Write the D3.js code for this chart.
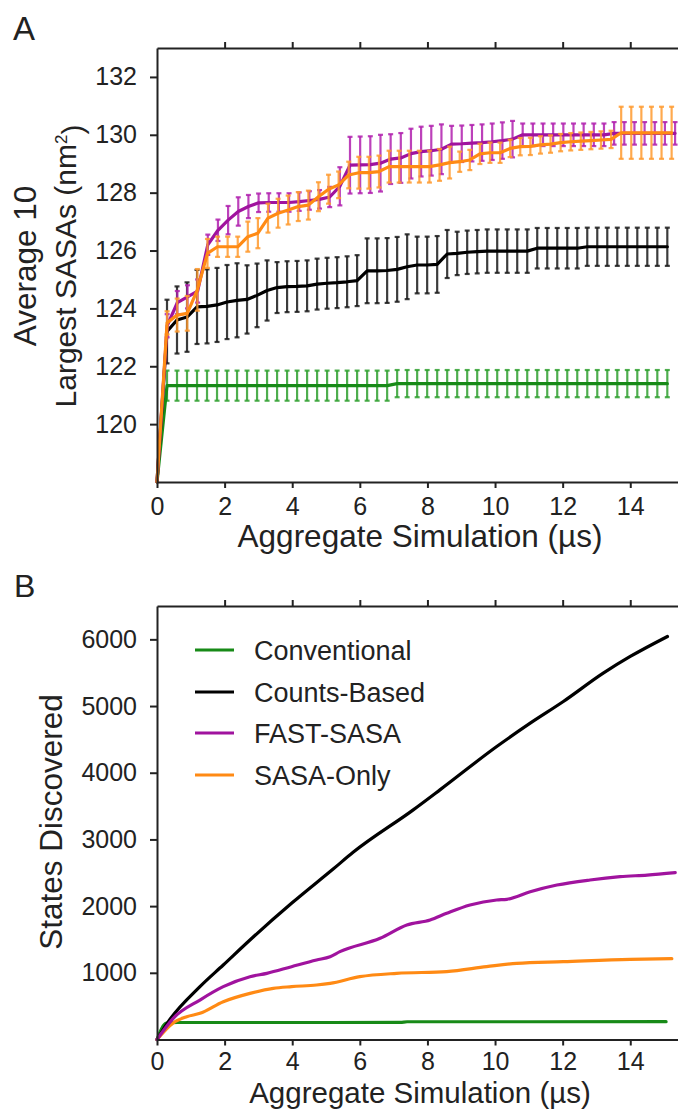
<!DOCTYPE html>
<html>
<head>
<meta charset="utf-8">
<script src="https://cdn.jsdelivr.net/npm/d3@7"></script>
<style>
  html, body { margin: 0; padding: 0; background: #fff; }
  svg { display: block; font-family: "Liberation Sans", Arial, Helvetica, sans-serif; }
</style>
</head>
<body>
<svg id="chart" width="678" height="1109"></svg>
<script>
// ---------------- Data ----------------
const seriesNames = ["Conventional", "Counts-Based", "FAST-SASA", "SASA-Only"];

// Panel A: sampling step (µs) of each run; points at k*step, k = 1..51, plus the start at t = 0
const stepConventional = 0.296;
const stepCounts = 0.296;
const stepFast = 0.3005;
const stepSasaOnly = 0.2985;
const startSasa = 118.0;

const sasaConventional = [
  121.33, 121.33, 121.33, 121.33, 121.33, 121.33, 121.33, 121.33, 121.33, 121.33,
  121.33, 121.33, 121.33, 121.33, 121.33, 121.33, 121.33, 121.33, 121.33, 121.33,
  121.33, 121.33, 121.33, 121.40, 121.40, 121.40, 121.40, 121.40, 121.40, 121.40,
  121.40, 121.40, 121.40, 121.40, 121.40, 121.40, 121.40, 121.40, 121.40, 121.40,
  121.40, 121.40, 121.40, 121.40, 121.40, 121.40, 121.40, 121.40, 121.40, 121.40, 121.40
];
const errConventional = [
  0.52, 0.52, 0.52, 0.52, 0.52, 0.52, 0.52, 0.52, 0.52, 0.52,
  0.52, 0.52, 0.52, 0.52, 0.52, 0.52, 0.52, 0.52, 0.52, 0.52,
  0.52, 0.52, 0.52, 0.47, 0.47, 0.47, 0.47, 0.47, 0.47, 0.47,
  0.47, 0.47, 0.47, 0.47, 0.47, 0.47, 0.47, 0.47, 0.47, 0.47,
  0.47, 0.47, 0.47, 0.47, 0.47, 0.47, 0.47, 0.47, 0.47, 0.47, 0.47
];

const sasaCounts = [
  123.2, 123.6, 123.7, 124.05, 124.07, 124.12, 124.22, 124.28, 124.31, 124.45,
  124.62, 124.72, 124.75, 124.76, 124.78, 124.84, 124.87, 124.89, 124.92, 124.96,
  125.3, 125.3, 125.31, 125.35, 125.44, 125.5, 125.5, 125.52, 125.88, 125.9,
  125.94, 125.96, 125.98, 125.98, 125.98, 125.98, 125.98, 126.08, 126.08, 126.08,
  126.08, 126.08, 126.13, 126.13, 126.13, 126.13, 126.13, 126.13, 126.13, 126.13, 126.13
];
const errCounts = [
  1.1, 1.16, 1.2, 1.28, 1.28, 1.28, 1.28, 1.28, 1.18, 1.1,
  1.04, 0.88, 0.88, 0.88, 0.88, 0.88, 0.88, 0.88, 0.88, 0.88,
  1.12, 1.12, 1.12, 1.12, 1.12, 0.98, 0.98, 0.98, 0.83, 0.75,
  0.75, 0.75, 0.75, 0.75, 0.75, 0.75, 0.75, 0.7, 0.7, 0.7,
  0.7, 0.7, 0.66, 0.66, 0.66, 0.66, 0.66, 0.66, 0.66, 0.66, 0.66
];

const sasaFast = [
  123.4, 124.2, 124.4, 124.6, 126.2, 126.7, 127.05, 127.35, 127.52, 127.65,
  127.66, 127.66, 127.66, 127.69, 127.73, 127.77, 127.85, 128.22, 128.95, 128.96,
  128.97, 129.02, 129.16, 129.2, 129.35, 129.42, 129.45, 129.5, 129.68, 129.69,
  129.71, 129.73, 129.76, 129.8, 129.85, 130.0, 130.0, 130.0, 130.0, 130.0,
  130.0, 130.0, 130.0, 130.0, 130.05, 130.05, 130.05, 130.05, 130.05, 130.05, 130.05
];
const errFast = [
  0.4, 0.4, 0.4, 0.4, 0.35, 0.37, 0.49, 0.49, 0.4, 0.32,
  0.32, 0.32, 0.32, 0.32, 0.32, 0.32, 0.35, 0.66, 0.98, 0.98,
  0.98, 0.98, 0.86, 0.86, 0.86, 0.86, 0.86, 0.86, 0.63, 0.63,
  0.63, 0.63, 0.63, 0.63, 0.63, 0.39, 0.39, 0.39, 0.39, 0.39,
  0.39, 0.39, 0.39, 0.39, 0.39, 0.39, 0.39, 0.39, 0.39, 0.39, 0.39
];

const sasaSasaOnly = [
  123.5, 123.77, 123.83, 124.64, 125.9, 126.13, 126.13, 126.13, 126.48, 126.6,
  127.12, 127.29, 127.4, 127.52, 127.57, 127.86, 128.12, 128.27, 128.61, 128.69,
  128.69, 128.73, 128.9, 128.9, 128.9, 128.9, 128.9, 128.96, 129.04, 129.07,
  129.13, 129.34, 129.38, 129.38, 129.53, 129.59, 129.6, 129.65, 129.68, 129.73,
  129.76, 129.78, 129.8, 129.82, 129.84, 130.07, 130.07, 130.07, 130.07, 130.07, 130.07
];
const errSasaOnly = [
  0.4, 0.57, 0.6, 0.72, 0.5, 0.35, 0.35, 0.35, 0.52, 0.52,
  0.5, 0.5, 0.5, 0.5, 0.5, 0.5, 0.5, 0.46, 0.46, 0.55,
  0.55, 0.55, 0.55, 0.55, 0.55, 0.55, 0.55, 0.55, 0.55, 0.35,
  0.35, 0.35, 0.35, 0.35, 0.3, 0.3, 0.3, 0.3, 0.3, 0.3,
  0.3, 0.3, 0.3, 0.3, 0.3, 0.9, 0.9, 0.9, 0.9, 0.9, 0.9
];

// Panel B: states discovered
const timeConventionalB = [0, 0.28, 0.6, 3.0, 7.2, 7.4, 11.0, 15.06];
const statesConventional = [0, 245, 255, 255, 256, 266, 266, 267];

const timeCountsB = [0, 0.3, 1.27, 1.96, 2.75, 3.98, 5.22, 5.81, 7.58, 8.37, 10.05, 11.04, 12.02, 13.2, 14.0, 15.1];
const statesCounts = [0, 243, 792, 1117, 1492, 2042, 2560, 2810, 3443, 3743, 4393, 4743, 5068, 5493, 5743, 6043];

const timeFastB = [0, 0.48, 1.27, 1.96, 2.75, 3.25, 3.98, 4.72, 5.12, 5.41, 6.6, 7.39, 8.08, 8.57, 9.26, 10.05, 10.35, 11.04, 11.83, 12.81, 13.7, 14.5, 15.33];
const statesFast = [0, 318, 592, 792, 942, 992, 1092, 1192, 1242, 1317, 1517, 1717, 1792, 1892, 2017, 2092, 2102, 2216, 2316, 2392, 2441, 2466, 2501];

const timeSasaOnlyB = [0, 0.48, 0.88, 1.27, 1.96, 2.75, 3.44, 3.98, 4.72, 5.12, 6.0, 7.09, 8.57, 9.75, 10.64, 12.02, 14.0, 15.23];
const statesSasaOnly = [0, 250, 342, 392, 567, 692, 767, 792, 817, 842, 942, 992, 1017, 1092, 1142, 1167, 1202, 1212];

const xTicks = [0, 2, 4, 6, 8, 10, 12, 14];
const yTicksA = [120, 122, 124, 126, 128, 130, 132];
const yTicksB = [1000, 2000, 3000, 4000, 5000, 6000];

// ---------------- Styling ----------------
const colors = {
  "Conventional": "#178a17",
  "Counts-Based": "#000000",
  "FAST-SASA": "#a0139e",
  "SASA-Only": "#ff8a14"
};
const barColors = {
  "Conventional": "#2fa02f",
  "Counts-Based": "#1a1a1a",
  "FAST-SASA": "#b020ae",
  "SASA-Only": "#ff9a2e"
};
const axisColor = "#222";
const textColor = "#222";
const tickFont = "25px";
const titleFont = "31.5px";

const svg = d3.select("#chart");

// Build series for panel A
function buildA(name, step, values, errs) {
  const pts = [{ t: 0, v: startSasa, e: 0 }];
  values.forEach((v, i) => pts.push({ t: step * (i + 1), v: v, e: errs[i] }));
  return { name, pts };
}
const seriesA = [
  buildA("Conventional", stepConventional, sasaConventional, errConventional),
  buildA("Counts-Based", stepCounts, sasaCounts, errCounts),
  buildA("FAST-SASA", stepFast, sasaFast, errFast),
  buildA("SASA-Only", stepSasaOnly, sasaSasaOnly, errSasaOnly)
];

function buildB(name, times, values) {
  return { name, pts: times.map((t, i) => ({ t, v: values[i] })) };
}
const seriesB = [
  buildB("Conventional", timeConventionalB, statesConventional),
  buildB("Counts-Based", timeCountsB, statesCounts),
  buildB("SASA-Only", timeSasaOnlyB, statesSasaOnly),
  buildB("FAST-SASA", timeFastB, statesFast)
];

// ---------------- Frame helper ----------------
function drawFrame(g, x, y, top, bottom, yTicks, xPad) {
  const gl = g.append("g").attr("transform", `translate(${x.range()[0]},0)`)
    .call(d3.axisLeft(y).tickValues(yTicks).tickFormat(d3.format("d"))
      .tickSize(7).tickPadding(13).tickSizeOuter(0));
  const gb = g.append("g").attr("transform", `translate(0,${bottom})`)
    .call(d3.axisBottom(x).tickValues(xTicks).tickFormat(d3.format("d"))
      .tickSize(6).tickPadding(xPad).tickSizeOuter(0));
  const gt = g.append("g").attr("transform", `translate(0,${top})`)
    .call(d3.axisTop(x).tickValues(xTicks.filter(d => d > 0)).tickSize(6).tickFormat("").tickSizeOuter(0));
  [gl, gb, gt].forEach(a => {
    a.select(".domain").attr("stroke", axisColor).attr("stroke-width", 2);
    a.selectAll(".tick line").attr("stroke", axisColor).attr("stroke-width", 2);
    a.selectAll(".tick text").attr("fill", textColor)
      .style("font-size", tickFont).style("font-family", "'Liberation Sans', Arial, sans-serif");
  });
}

// ---------------- Panel A ----------------
const xA = d3.scaleLinear().domain([0, 15.56]).range([157, 683]);
const yA = d3.scaleLinear().domain([118, 133]).range([482, 48]);
const gA = svg.append("g");

const lineA = d3.line().x(d => xA(d.t)).y(d => yA(d.v));
const order = ["Conventional", "Counts-Based", "FAST-SASA", "SASA-Only"];
order.forEach(name => {
  const s = seriesA.find(q => q.name === name);
  const bars = gA.append("g").attr("stroke", barColors[name]).attr("stroke-width", 2.2)
    .attr("stroke-opacity", 0.85);
  s.pts.filter(d => d.e > 0).forEach(d => {
    const cx = xA(d.t), y1 = yA(d.v - d.e), y2 = yA(d.v + d.e);
    bars.append("line").attr("x1", cx).attr("x2", cx).attr("y1", y1).attr("y2", y2);
    bars.append("line").attr("x1", cx - 2.5).attr("x2", cx + 2.5).attr("y1", y1).attr("y2", y1);
    bars.append("line").attr("x1", cx - 2.5).attr("x2", cx + 2.5).attr("y1", y2).attr("y2", y2);
  });
  gA.append("path").datum(s.pts).attr("d", lineA)
    .attr("fill", "none").attr("stroke", colors[name]).attr("stroke-width", 3.2)
    .attr("stroke-linejoin", "round").attr("stroke-linecap", "round");
});

drawFrame(gA, xA, yA, 48, 482, yTicksA, 9);

gA.append("text").attr("x", 13).attr("y", 40).text("A")
  .attr("fill", textColor).style("font-size", "33px");

gA.append("text").attr("x", 420).attr("y", 547).attr("text-anchor", "middle")
  .attr("fill", textColor).style("font-size", titleFont).text("Aggregate Simulation (µs)");

const yTitleA = gA.append("g").attr("fill", textColor).style("font-size", "30px");
yTitleA.append("text").attr("transform", "translate(36,266) rotate(-90)")
  .attr("text-anchor", "middle").style("font-size", "31.5px").text("Average 10");
const t2 = yTitleA.append("text").attr("transform", "translate(76,266) rotate(-90)")
  .attr("text-anchor", "middle");
t2.append("tspan").text("Largest SASAs (nm");
t2.append("tspan").attr("dy", "-0.55em").style("font-size", "17px").text("2");
t2.append("tspan").attr("dy", "0.55em").text(")");

// ---------------- Panel B ----------------
const xB = d3.scaleLinear().domain([0, 15.56]).range([157, 683]);
const yB = d3.scaleLinear().domain([0, 6500]).range([1039.5, 606]);
const gB = svg.append("g");

const lineB = d3.line().x(d => xB(d.t)).y(d => yB(d.v)).curve(d3.curveMonotoneX);
seriesB.forEach(s => {
  gB.append("path").datum(s.pts).attr("d", lineB)
    .attr("fill", "none").attr("stroke", colors[s.name]).attr("stroke-width", 3.2)
    .attr("stroke-linejoin", "round").attr("stroke-linecap", "round");
});

drawFrame(gB, xB, yB, 606, 1039.5, yTicksB, 7);

gB.append("text").attr("x", 14).attr("y", 597).text("B")
  .attr("fill", textColor).style("font-size", "32px");

gB.append("text").attr("x", 420).attr("y", 1102.5).attr("text-anchor", "middle")
  .attr("fill", textColor).style("font-size", "29.5px").text("Aggregate Simulation (µs)");

gB.append("text").attr("transform", "translate(62,822) rotate(-90)")
  .attr("text-anchor", "middle").attr("fill", textColor).style("font-size", titleFont)
  .text("States Discovered");

// Legend
const legend = gB.append("g");
const legendRows = [650, 692, 733, 775];
seriesNames.forEach((name, i) => {
  const row = legend.append("g").attr("transform", `translate(0,${legendRows[i]})`);
  row.append("line").attr("x1", 195).attr("x2", 234).attr("y1", 0).attr("y2", 0)
    .attr("stroke", colors[name]).attr("stroke-width", 3.2);
  row.append("text").attr("x", 254).attr("y", 0).attr("dy", "0.36em")
    .attr("fill", textColor).style("font-size", "27px").text(name);
});
</script>
</body>
</html>
